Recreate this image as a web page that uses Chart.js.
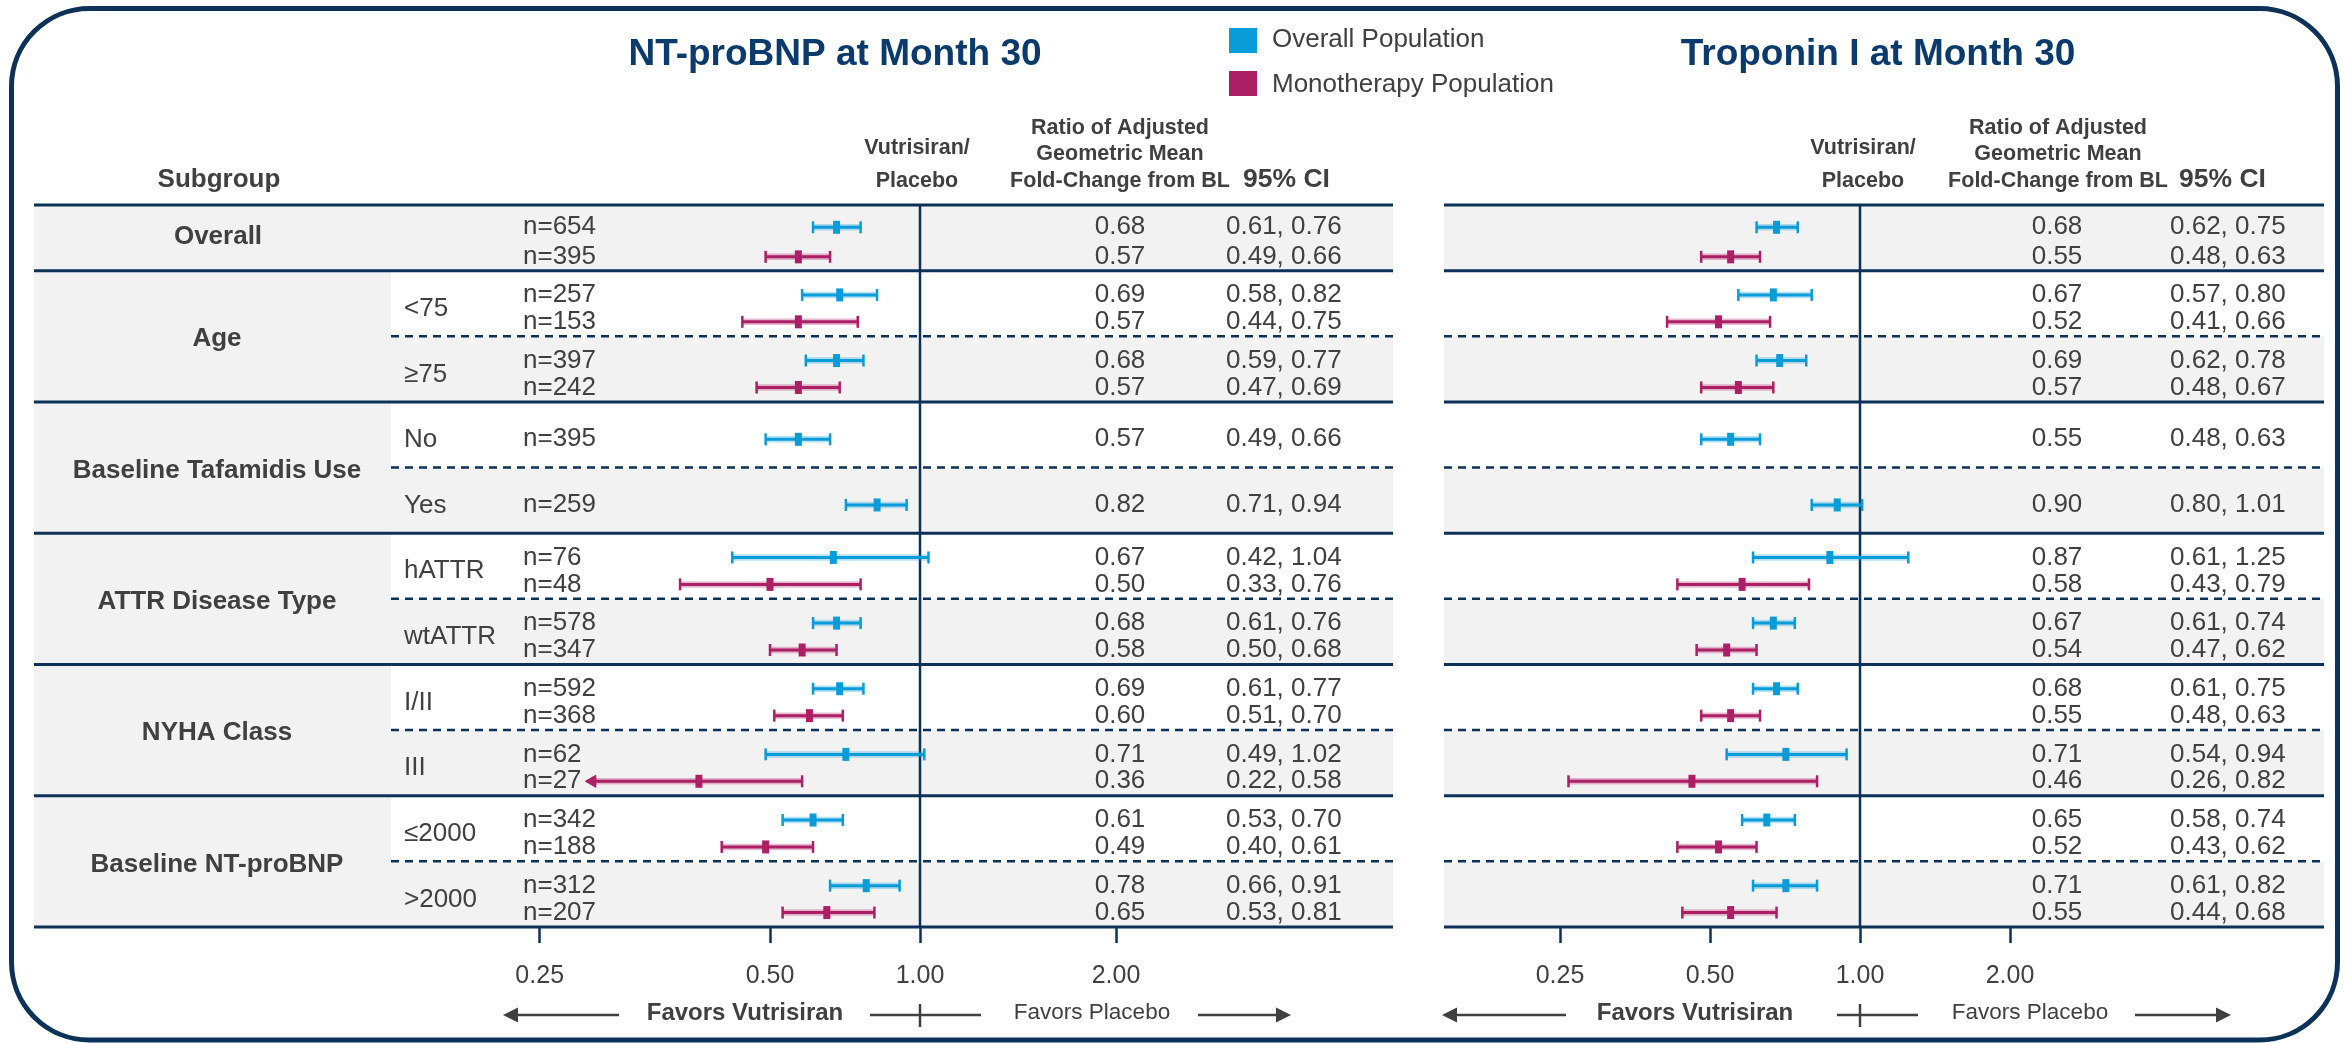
<!DOCTYPE html>
<html>
<head>
<meta charset="utf-8">
<script src="https://cdn.jsdelivr.net/npm/chart.js@4.4.1/dist/chart.umd.min.js"></script>
<style>
  html, body { margin: 0; padding: 0; background: #ffffff; }
  #wrap { position: relative; width: 2348px; height: 1043px; overflow: hidden; }
  #wrap canvas { position: absolute; left: 0; top: 0; }
</style>
</head>
<body>
<div id="wrap">
  <canvas id="cBnp" width="2348" height="1043"></canvas>
  <canvas id="cTn" width="2348" height="1043"></canvas>
</div>
<script>
// ===================== DATA =====================
const groupLabels    = ['Overall', 'Age', 'Baseline Tafamidis Use', 'ATTR Disease Type', 'NYHA Class', 'Baseline NT-proBNP'];
const subgroupLabels = ['', '<75', '\u226575', 'No', 'Yes', 'hATTR', 'wtATTR', 'I/II', 'III', '\u22642000', '>2000'];
const nOverall = [654, 257, 397, 395, 259, 76, 578, 592, 62, 342, 312];
const nMono    = [395, 153, 242, null, null, 48, 347, 368, 27, 188, 207];

// NT-proBNP at Month 30
const bnpOverall   = [0.68, 0.69, 0.68, 0.57, 0.82, 0.67, 0.68, 0.69, 0.71, 0.61, 0.78];
const bnpOverallLo = [0.61, 0.58, 0.59, 0.49, 0.71, 0.42, 0.61, 0.61, 0.49, 0.53, 0.66];
const bnpOverallHi = [0.76, 0.82, 0.77, 0.66, 0.94, 1.04, 0.76, 0.77, 1.02, 0.70, 0.91];
const bnpMono      = [0.57, 0.57, 0.57, null, null, 0.50, 0.58, 0.60, 0.36, 0.49, 0.65];
const bnpMonoLo    = [0.49, 0.44, 0.47, null, null, 0.33, 0.50, 0.51, 0.22, 0.40, 0.53];
const bnpMonoHi    = [0.66, 0.75, 0.69, null, null, 0.76, 0.68, 0.70, 0.58, 0.61, 0.81];
const bnpMonoLowArrow = [false, false, false, false, false, false, false, false, true, false, false];

// Troponin I at Month 30
const tnOverall   = [0.68, 0.67, 0.69, 0.55, 0.90, 0.87, 0.67, 0.68, 0.71, 0.65, 0.71];
const tnOverallLo = [0.62, 0.57, 0.62, 0.48, 0.80, 0.61, 0.61, 0.61, 0.54, 0.58, 0.61];
const tnOverallHi = [0.75, 0.80, 0.78, 0.63, 1.01, 1.25, 0.74, 0.75, 0.94, 0.74, 0.82];
const tnMono      = [0.55, 0.52, 0.57, null, null, 0.58, 0.54, 0.55, 0.46, 0.52, 0.55];
const tnMonoLo    = [0.48, 0.41, 0.48, null, null, 0.43, 0.47, 0.48, 0.26, 0.43, 0.44];
const tnMonoHi    = [0.63, 0.66, 0.67, null, null, 0.79, 0.62, 0.63, 0.82, 0.62, 0.68];
const tnMonoLowArrow = [false, false, false, false, false, false, false, false, false, false, false];

const seriesNames   = ['Overall Population', 'Monotherapy Population'];
const panelTitles   = ['NT-proBNP at Month 30', 'Troponin I at Month 30'];
const headerSubgroup = 'Subgroup';
const headerArmLines = ['Vutrisiran/', 'Placebo'];
const headerRatioLines = ['Ratio of Adjusted', 'Geometric Mean', 'Fold-Change from BL'];
const headerCI = '95% CI';
const favorsLabels = ['Favors Vutrisiran', 'Favors Placebo'];
const tickLabels = ['0.25', '0.50', '1.00', '2.00'];
// axis values at which the reference draws its tick labels (left panel's ticks are placed irregularly in the source)
const bnpTickValues = [0.1725, 0.5, 1, 2.474];
const tnTickValues  = [0.25, 0.5, 1, 2];

// ===================== STYLE / LAYOUT =====================
const W = 2348, H = 1043;
const FONT = '"Liberation Sans", Arial, Helvetica, sans-serif';
const NAVY = '#0c3257', TEXT = '#404040', GRAY = '#f2f2f2', TITLE = '#0b3a6d';
const BLUE = '#0a9bd9', MAG = '#ad1f65';
const BLUE_HALO = 'rgba(10,155,217,0.30)', MAG_HALO = 'rgba(173,31,101,0.30)';
const TABLE_TOP = 205, TABLE_BOTTOM = 927, NROWS = 11;
const PX_PER_DOUBLING = 150;
Chart.defaults.font.family = FONT;

const layoutBnp = {
  title: panelTitles[0], titleX: 835, refPx: 920, plotL: 480, plotR: 1200,
  tableL: 34, tableR: 1393, subL: 391, labelCol: true,
  ratioX: 1120, ciX: 1226, armX: 917, ratioHX: 1120, ciHX: 1243,
  fav: { lTip: 503, lEnd: 619, vutX: 745, mL: 870, mR: 981, plcX: 1092, rStart: 1198, rTip: 1291 },
  est: bnpOverall, lo: bnpOverallLo, hi: bnpOverallHi,
  mEst: bnpMono, mLo: bnpMonoLo, mHi: bnpMonoHi, mArrow: bnpMonoLowArrow,
  ticks: bnpTickValues, main: true
};
const layoutTn = {
  title: panelTitles[1], titleX: 1878, refPx: 1860, plotL: 1450, plotR: 2150,
  tableL: 1444, tableR: 2324, subL: 1444, labelCol: false,
  ratioX: 2057, ciX: 2170, armX: 1863, ratioHX: 2058, ciHX: 2179,
  fav: { lTip: 1442, lEnd: 1566, vutX: 1695, mL: 1837, mR: 1918, plcX: 2030, rStart: 2135, rTip: 2231 },
  est: tnOverall, lo: tnOverallLo, hi: tnOverallHi,
  mEst: tnMono, mLo: tnMonoLo, mHi: tnMonoHi, mArrow: tnMonoLowArrow,
  ticks: tnTickValues, main: false
};

function lineOffset(i, monoArr, isMono) {
  if (monoArr[i] == null) return 0.57;
  if (i === 0) return isMono ? 0.79 : 0.34;
  return isMono ? 0.78 : 0.37;
}

function T(ctx, s, x, y, size, bold, align, color) {
  ctx.font = (bold ? 'bold ' : '') + size + 'px ' + FONT;
  ctx.fillStyle = color || TEXT;
  ctx.textAlign = align || 'center';
  ctx.textBaseline = 'middle';
  ctx.fillText(s, x, y);
}

function roundRectPath(ctx, x, y, w, h, r) {
  ctx.beginPath();
  ctx.moveTo(x + r, y);
  ctx.lineTo(x + w - r, y);
  ctx.arcTo(x + w, y, x + w, y + r, r);
  ctx.lineTo(x + w, y + h - r);
  ctx.arcTo(x + w, y + h, x + w - r, y + h, r);
  ctx.lineTo(x + r, y + h);
  ctx.arcTo(x, y + h, x, y + h - r, r);
  ctx.lineTo(x, y + r);
  ctx.arcTo(x, y, x + r, y, r);
  ctx.closePath();
}

function arrowHead(ctx, tipX, y, dir) {
  // dir = -1 pointing left, +1 pointing right
  ctx.beginPath();
  ctx.moveTo(tipX, y);
  ctx.lineTo(tipX - dir * 15, y - 7.5);
  ctx.lineTo(tipX - dir * 15, y + 7.5);
  ctx.closePath();
  ctx.fill();
}

function tablePlugin(L) {
  return {
    id: 'forestTable',
    beforeDraw(chart) {
      if (!L.main) return;
      const ctx = chart.ctx;
      ctx.save();
      ctx.fillStyle = '#ffffff';
      ctx.fillRect(0, 0, W, H);
      ctx.restore();
    },
    beforeDatasetsDraw(chart) {
      const ctx = chart.ctx, ys = chart.scales.y, xs = chart.scales.x;
      const yp = v => ys.getPixelForValue(v);
      ctx.save();
      // backgrounds
      ctx.fillStyle = GRAY;
      ctx.fillRect(L.tableL, yp(0), L.tableR - L.tableL, yp(1) - yp(0));
      for (let i = 2; i <= 10; i += 2) ctx.fillRect(L.subL, yp(i), L.tableR - L.subL, yp(i + 1) - yp(i));
      if (L.labelCol) ctx.fillRect(L.tableL, yp(1), L.subL - L.tableL, yp(NROWS) - yp(1));
      // dashed separators
      ctx.strokeStyle = NAVY;
      ctx.lineWidth = 2.5;
      ctx.setLineDash([8, 6]);
      for (let i = 2; i <= 10; i += 2) {
        ctx.beginPath(); ctx.moveTo(L.subL, yp(i)); ctx.lineTo(L.tableR, yp(i)); ctx.stroke();
      }
      ctx.setLineDash([]);
      // solid separators
      ctx.lineWidth = 3;
      [0, 1, 3, 5, 7, 9, 11].forEach(i => {
        ctx.beginPath(); ctx.moveTo(L.tableL, yp(i)); ctx.lineTo(L.tableR, yp(i)); ctx.stroke();
      });
      // reference line at 1.00
      const x1 = xs.getPixelForValue(1);
      ctx.lineWidth = 2.5;
      ctx.beginPath(); ctx.moveTo(x1, yp(0)); ctx.lineTo(x1, chart.chartArea.bottom); ctx.stroke();
      ctx.restore();
    },
    afterDraw(chart) {
      const ctx = chart.ctx, ys = chart.scales.y, xs = chart.scales.x;
      const yp = v => ys.getPixelForValue(v);
      ctx.save();
      if (L.main) {
        // outer frame
        ctx.strokeStyle = NAVY; ctx.lineWidth = 5;
        roundRectPath(ctx, 11.5, 8.5, 2326, 1031.5, 78);
        ctx.stroke();
        // legend
        ctx.fillStyle = BLUE; ctx.fillRect(1229, 28, 28, 25);
        ctx.fillStyle = MAG;  ctx.fillRect(1229, 71, 28, 25);
        T(ctx, seriesNames[0], 1272, 40, 26, false, 'left');
        T(ctx, seriesNames[1], 1272, 85, 26, false, 'left');
        // subgroup header and labels
        T(ctx, headerSubgroup, 219, 180, 26, true, 'center');
        T(ctx, groupLabels[0], 218, (yp(0) + yp(1)) / 2 - 1, 26, true, 'center');
        for (let g = 1; g < groupLabels.length; g++) {
          T(ctx, groupLabels[g], 217, yp(2 * g) + 3, 26, true, 'center');
        }
        for (let i = 1; i < NROWS; i++) {
          T(ctx, subgroupLabels[i], 404, yp(i + 0.58), 26, false, 'left');
        }
        for (let i = 0; i < NROWS; i++) {
          T(ctx, 'n=' + nOverall[i], 523, yp(i + lineOffset(i, nMono, false)), 26, false, 'left');
          if (nMono[i] != null) T(ctx, 'n=' + nMono[i], 523, yp(i + lineOffset(i, nMono, true)), 26, false, 'left');
        }
      }
      // title
      T(ctx, L.title, L.titleX, 55, 37, true, 'center', TITLE);
      // column headers
      T(ctx, headerArmLines[0], L.armX, 148, 21.5, true, 'center');
      T(ctx, headerArmLines[1], L.armX, 181, 21.5, true, 'center');
      T(ctx, headerRatioLines[0], L.ratioHX, 128, 21.5, true, 'center');
      T(ctx, headerRatioLines[1], L.ratioHX, 154, 21.5, true, 'center');
      T(ctx, headerRatioLines[2], L.ratioHX, 181, 21.5, true, 'center');
      T(ctx, headerCI, L.ciHX, 180, 26.5, true, 'left');
      // values
      for (let i = 0; i < NROWS; i++) {
        const y1 = yp(i + lineOffset(i, L.mEst, false));
        T(ctx, L.est[i].toFixed(2), L.ratioX, y1, 26, false, 'center');
        T(ctx, L.lo[i].toFixed(2) + ', ' + L.hi[i].toFixed(2), L.ciX, y1, 26, false, 'left');
        if (L.mEst[i] != null) {
          const y2 = yp(i + lineOffset(i, L.mEst, true));
          T(ctx, L.mEst[i].toFixed(2), L.ratioX, y2, 26, false, 'center');
          T(ctx, L.mLo[i].toFixed(2) + ', ' + L.mHi[i].toFixed(2), L.ciX, y2, 26, false, 'left');
        }
      }
      // favors row
      const F = L.fav, fy = 1015, x1 = xs.getPixelForValue(1);
      ctx.strokeStyle = TEXT; ctx.fillStyle = TEXT; ctx.lineWidth = 2.5;
      ctx.beginPath(); ctx.moveTo(F.lTip + 10, fy); ctx.lineTo(F.lEnd, fy); ctx.stroke();
      arrowHead(ctx, F.lTip, fy, -1);
      ctx.beginPath(); ctx.moveTo(F.mL, fy); ctx.lineTo(F.mR, fy); ctx.stroke();
      ctx.beginPath(); ctx.moveTo(x1, 1004); ctx.lineTo(x1, 1027); ctx.stroke();
      ctx.beginPath(); ctx.moveTo(F.rStart, fy); ctx.lineTo(F.rTip - 10, fy); ctx.stroke();
      ctx.fillStyle = TEXT;
      arrowHead(ctx, F.rTip, fy, 1);
      T(ctx, favorsLabels[0], F.vutX, 1013, 24, true, 'center');
      T(ctx, favorsLabels[1], F.plcX, 1013, 22.5, false, 'center');
      ctx.restore();
    }
  };
}

function pointData(est, monoArr, isMono) {
  const d = [];
  est.forEach((v, i) => { if (v != null) d.push({ x: v, y: i + lineOffset(i, monoArr, isMono) }); });
  return d;
}
function ciData(est, lo, hi, monoArr, isMono, arrowLow) {
  const d = [];
  est.forEach((v, i) => {
    if (v == null) return;
    const y = i + lineOffset(i, monoArr, isMono);
    d.push({ x: lo[i], y: y, arrow: !!(arrowLow && arrowLow[i]) }, { x: hi[i], y: y }, { x: null, y: null });
  });
  return d;
}

function ciDataset(data, color) {
  const isArrow = c => !!(c.raw && c.raw.arrow);
  return {
    data, borderColor: color, borderWidth: 3, tension: 0, fill: false, spanGaps: false,
    pointStyle: c => isArrow(c) ? 'triangle' : 'line',
    pointRotation: c => isArrow(c) ? 270 : 90,
    pointRadius: c => isArrow(c) ? 7 : 6,
    pointBorderWidth: c => isArrow(c) ? 1 : 2.5,
    pointBorderColor: color, pointBackgroundColor: color
  };
}
function haloDataset(data, color) {
  return { data, borderColor: color, borderWidth: 6.5, tension: 0, fill: false, spanGaps: false, pointRadius: 0 };
}
function estDataset(data, color) {
  return {
    data, showLine: false, borderColor: color, backgroundColor: color,
    pointStyle: 'line', pointRotation: 90, pointRadius: 6.5, pointBorderWidth: 7,
    pointBorderColor: color, pointBackgroundColor: color
  };
}

function makeChart(id, L) {
  const oCI = ciData(L.est, L.lo, L.hi, L.mEst, false, null);
  const mCI = ciData(L.mEst, L.mLo, L.mHi, L.mEst, true, L.mArrow);
  return new Chart(document.getElementById(id), {
    type: 'line',
    data: {
      datasets: [
        estDataset(pointData(L.est, L.mEst, false), BLUE),
        estDataset(pointData(L.mEst, L.mEst, true), MAG),
        ciDataset(oCI, BLUE),
        ciDataset(mCI, MAG),
        haloDataset(oCI, BLUE_HALO),
        haloDataset(mCI, MAG_HALO)
      ]
    },
    options: {
      responsive: false, maintainAspectRatio: false, animation: false, devicePixelRatio: 1,
      events: [],
      layout: { padding: { left: L.plotL, right: W - L.plotR, top: TABLE_TOP, bottom: 34 } },
      scales: {
        x: {
          type: 'logarithmic', position: 'bottom', bounds: 'data',
          min: Math.pow(2, (L.plotL - L.refPx) / PX_PER_DOUBLING),
          max: Math.pow(2, (L.plotR - L.refPx) / PX_PER_DOUBLING),
          afterBuildTicks: s => { s.ticks = L.ticks.map(v => ({ value: v })); },
          ticks: {
            autoSkip: false, maxRotation: 0, minRotation: 0, padding: 18, color: TEXT,
            font: { size: 25, family: FONT },
            callback: (v, i) => tickLabels[i]
          },
          grid: { drawOnChartArea: false, drawTicks: true, tickLength: 16, tickColor: NAVY, tickWidth: 2.5 },
          border: { display: false }
        },
        y: { type: 'linear', min: 0, max: NROWS, reverse: true, display: false }
      },
      plugins: { legend: { display: false }, tooltip: { enabled: false }, title: { display: false } }
    },
    plugins: [tablePlugin(L)]
  });
}

makeChart('cBnp', layoutBnp);
makeChart('cTn', layoutTn);
</script>
</body>
</html>
